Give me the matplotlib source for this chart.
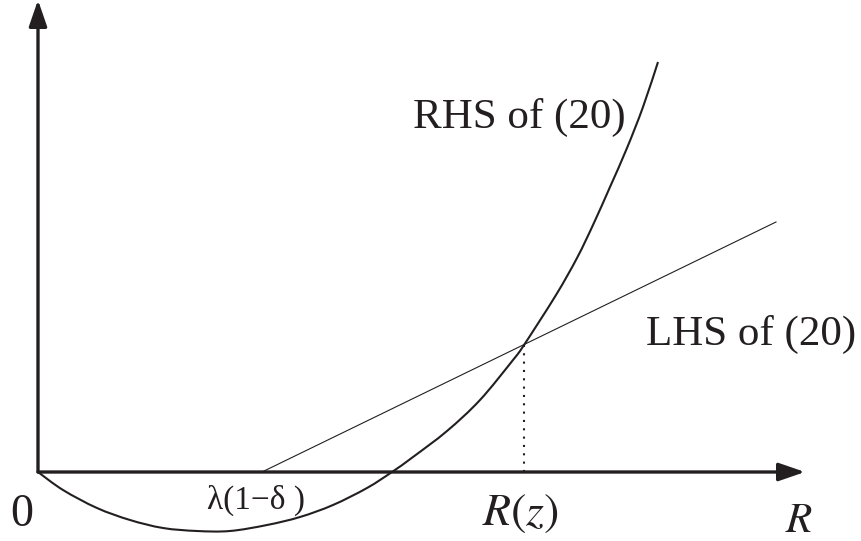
import matplotlib
matplotlib.use("Agg")
import matplotlib.pyplot as plt
from matplotlib.path import Path
from matplotlib.patches import PathPatch

# RHS of (20): points (R, value)
r_rhs = [0.00, 0.25, 0.59, 0.92, 1.25, 1.59, 1.92, 2.29, 2.62, 2.95, 3.29, 3.54,
         3.75, 4.09, 4.42, 4.75, 4.86, 5.18, 5.39, 5.55, 5.72, 5.89, 6.05, 6.20]
v_rhs = [0.00, -0.18, -0.36, -0.48, -0.56, -0.59, -0.59, -0.53, -0.45, -0.33, -0.16, 0.00,
         0.15, 0.41, 0.72, 1.12, 1.27, 1.77, 2.14, 2.47, 2.85, 3.24, 3.65, 4.10]

# LHS of (20): straight line starting at lambda(1-delta)
r_lhs = [2.24, 7.38]
v_lhs = [0.00, 2.50]

r_z = 4.86          # intersection R(z)
v_z = 1.27
x_end = 7.67        # tip of R axis
y_end = 4.72        # tip of vertical axis

ink = "#231f20"


def smooth_path(xs, ys):
    # Catmull-Rom through the read points, drawn as cubic Bezier pieces
    pts = list(zip(xs, ys))
    verts = [pts[0]]
    codes = [Path.MOVETO]
    for i in range(len(pts) - 1):
        p0 = pts[max(i - 1, 0)]
        p1 = pts[i]
        p2 = pts[i + 1]
        p3 = pts[min(i + 2, len(pts) - 1)]
        c1 = (p1[0] + (p2[0] - p0[0]) / 6, p1[1] + (p2[1] - p0[1]) / 6)
        c2 = (p2[0] - (p3[0] - p1[0]) / 6, p2[1] - (p3[1] - p1[1]) / 6)
        verts += [c1, c2, p2]
        codes += [Path.CURVE4] * 3
    return Path(verts, codes)


fig = plt.figure(figsize=(8.61, 5.41), dpi=100)
ax = fig.add_axes([0, 0, 1, 1])
ax.set_xlim(-0.38, 8.23)
ax.set_ylim(-0.69, 4.72)
ax.axis("off")

# axes with arrow heads
arrow = dict(arrowstyle="-|>,head_length=1.6,head_width=0.55", lw=2.4,
             color=ink, shrinkA=0, shrinkB=0, mutation_scale=10)
ax.annotate("", xy=(x_end, 0), xytext=(0, 0), arrowprops=arrow)
ax.annotate("", xy=(0, y_end), xytext=(0, 0), arrowprops=arrow)

ax.add_patch(PathPatch(smooth_path(r_rhs, v_rhs), facecolor="none",
                       edgecolor=ink, lw=1.5))
ax.plot(r_lhs, v_lhs, color=ink, lw=0.8)
ax.plot([r_z, r_z], [0, v_z], color=ink, lw=1.5, linestyle=(0, (1, 3)))

serif = ["Liberation Serif", "DejaVu Serif"]
plt.rcParams["mathtext.fontset"] = "stix"

ax.text(3.75, 3.44, "RHS of (20)", family=serif, fontsize=31, color=ink)
ax.text(6.08, 1.27, "LHS of (20)", family=serif, fontsize=31, color=ink)
ax.text(-0.28, -0.54, "0", family=serif, fontsize=33, color=ink)
ax.text(1.69, -0.37, "λ(1−δ )", family=serif, fontsize=24, color=ink)
ax.text(4.44, -0.53, r"$R(z)$", fontsize=33, color=ink)
ax.text(7.47, -0.60, r"$R$", fontsize=31, color=ink)

fig.savefig("out.png", dpi=100)
